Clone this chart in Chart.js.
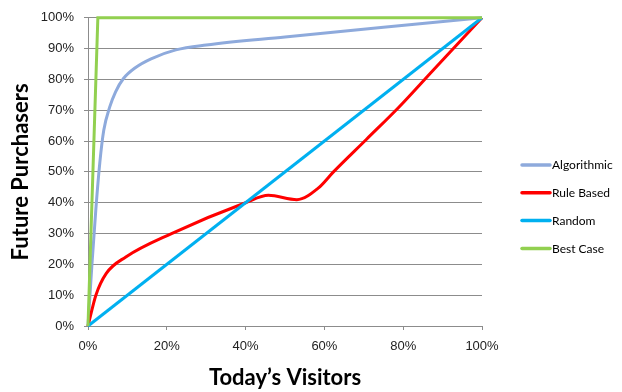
<!DOCTYPE html>
<html>
<head>
<meta charset="utf-8">
<script src="https://cdn.jsdelivr.net/npm/chart.js@4"></script>
<style>
  html, body { margin: 0; padding: 0; background: #fff; }
  #wrap { width: 622px; height: 392px; position: relative; }
</style>
</head>
<body>
<div id="wrap"><canvas id="c" width="622" height="392"></canvas></div>
<script>
// Cumulative share of visitors (x, %) vs. future purchasers captured (y, %)
const algorithmicX = [0, 1, 2, 3, 4, 5.5, 7, 9, 12, 16, 22.3, 30, 50, 75, 100];
const algorithmicY = [0, 20, 38, 53, 63.5, 71, 76, 80.3, 83.8, 86.7, 89.6, 91.2, 93.8, 96.9, 100];

const ruleBasedX = [0, 2, 4.6, 9.6, 21.2, 40, 45.8, 53, 58.5, 62.3, 70.7, 79.2, 87.6, 100];
const ruleBasedY = [0, 10, 17, 22.4, 30, 40, 42.4, 41, 44.8, 50, 60.6, 71.4, 83, 100];

const randomX = [0, 100];
const randomY = [0, 100];

const bestCaseX = [0, 2.5, 100];
const bestCaseY = [0, 100, 100];

const seriesNames = ['Algorithmic', 'Rule Based', 'Random', 'Best Case'];
const seriesColors = ['#8eaadc', '#ff0000', '#00b0f0', '#92d050'];

const xTicks = [0, 20, 40, 60, 80, 100];
const yTicks = [0, 10, 20, 30, 40, 50, 60, 70, 80, 90, 100];

function pts(xs, ys) { return xs.map((x, i) => ({ x: x, y: ys[i] })); }

const tickFont = { family: '"Liberation Sans", Arial, sans-serif', size: 13 };
const titleFont = { family: 'Lato, "Open Sans", sans-serif', size: 22, weight: 'bold' };
const gridColor = '#8c8c8c';

// Legend drawn to the right of the plot area
const sideLegend = {
  id: 'sideLegend',
  afterDraw(chart) {
    const ctx = chart.ctx;
    const x0 = 522, x1 = 550, top = 165, step = 27.8;
    ctx.save();
    ctx.font = '12px Lato, "Open Sans", sans-serif';
    ctx.textBaseline = 'middle';
    ctx.fillStyle = '#000';
    chart.data.datasets.forEach((ds, i) => {
      const y = top + i * step;
      ctx.strokeStyle = ds.borderColor;
      ctx.lineWidth = 3.5;
      ctx.lineCap = 'round';
      ctx.beginPath();
      ctx.moveTo(x0, y);
      ctx.lineTo(x1, y);
      ctx.stroke();
      ctx.fillText(ds.label, x1 + 2, y + 0.5);
    });
    ctx.restore();
  }
};

const common = { showLine: true, pointRadius: 0, pointHoverRadius: 0, borderWidth: 3, clip: 4, fill: false };

new Chart(document.getElementById('c'), {
  type: 'scatter',
  data: {
    datasets: [
      Object.assign({ label: seriesNames[0], data: pts(algorithmicX, algorithmicY), borderColor: seriesColors[0], cubicInterpolationMode: 'monotone', order: 3 }, common),
      Object.assign({ label: seriesNames[1], data: pts(ruleBasedX, ruleBasedY), borderColor: seriesColors[1], cubicInterpolationMode: 'monotone', order: 2 }, common),
      Object.assign({ label: seriesNames[2], data: pts(randomX, randomY), borderColor: seriesColors[2], tension: 0, order: 1 }, common),
      Object.assign({ label: seriesNames[3], data: pts(bestCaseX, bestCaseY), borderColor: seriesColors[3], tension: 0, order: 0 }, common)
    ]
  },
  options: {
    responsive: false,
    animation: false,
    devicePixelRatio: 1,
    layout: { padding: { top: 17, right: 140, bottom: 0, left: 0 } },
    plugins: { legend: { display: false }, tooltip: { enabled: false } },
    scales: {
      x: {
        type: 'linear', min: 0, max: 100,
        afterBuildTicks(scale) { scale.ticks = xTicks.map(v => ({ value: v })); },
        afterFit(scale) { scale.height = 66; },
        ticks: { font: tickFont, color: '#222', padding: 9, callback: v => v + '%', maxRotation: 0 },
        grid: { drawOnChartArea: false, drawTicks: true, tickLength: 4, color: gridColor },
        border: { display: true, color: gridColor, width: 1 },
        title: { display: true, text: 'Today\u2019s Visitors', font: titleFont, color: '#000', padding: { top: 0, bottom: 1 } }
      },
      y: {
        type: 'linear', min: 0, max: 100,
        afterBuildTicks(scale) { scale.ticks = yTicks.map(v => ({ value: v })); },
        afterFit(scale) { scale.width = 88; },
        ticks: { font: tickFont, color: '#222', padding: 10, callback: v => v + '%' },
        grid: { drawOnChartArea: true, drawTicks: true, tickLength: 4, color: gridColor },
        border: { display: true, color: gridColor, width: 1 },
        title: { display: true, text: 'Future Purchasers', font: titleFont, color: '#000', padding: { top: 8, bottom: 0 } }
      }
    }
  },
  plugins: [sideLegend]
});
</script>
</body>
</html>
